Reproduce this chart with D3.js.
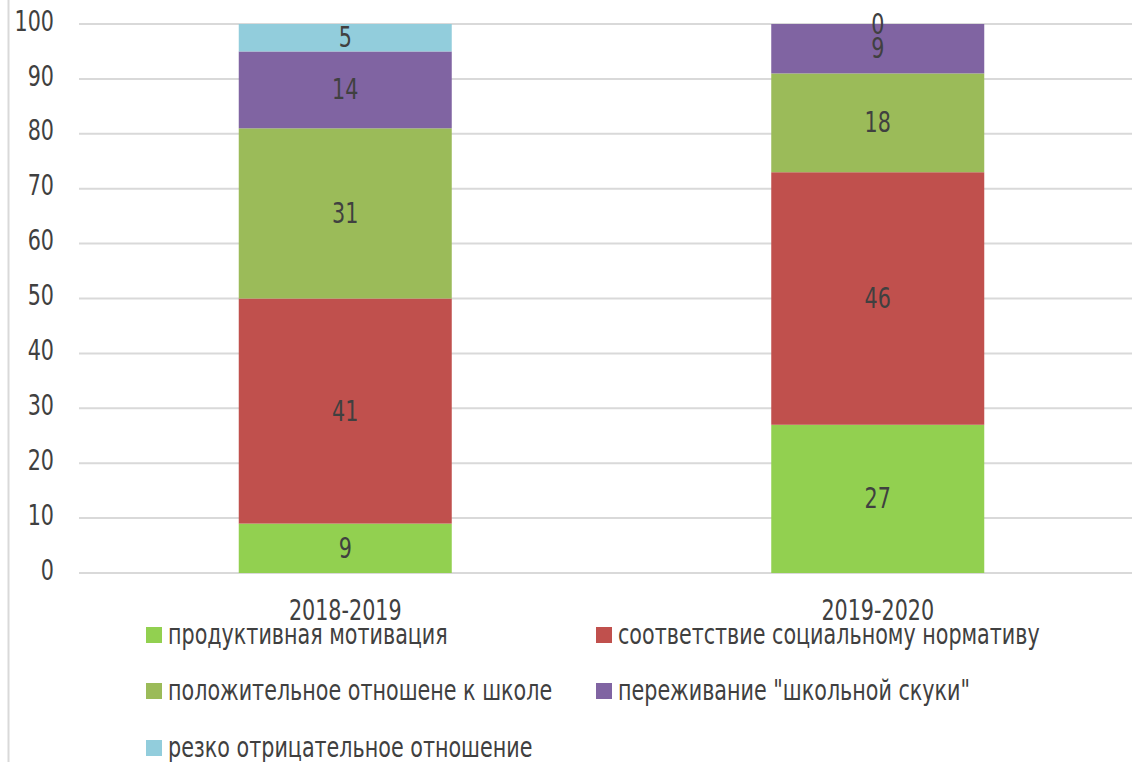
<!DOCTYPE html>
<html>
<head>
<meta charset="utf-8">
<script src="https://cdn.jsdelivr.net/npm/d3@7"></script>
<style>
  body { margin: 0; background: #fff; }
  svg text { font-family: "DejaVu Sans Condensed", "Liberation Sans Narrow", "DejaVu Sans", sans-serif; fill: #404040; }
</style>
</head>
<body>
<div id="chart"></div>
<script>
// data
const years = ['2018-2019', '2019-2020'];
const seriesNames = [
    'продуктивная мотивация',
    'соответствие социальному нормативу',
    'положительное отношене к школе',
    'переживание "школьной скуки"',
    'резко отрицательное отношение'
];
const productive = [9, 27];
const social = [41, 46];
const positive = [31, 18];
const boredom = [14, 9];
const negative = [5, 0];
const yTicks = [0, 10, 20, 30, 40, 50, 60, 70, 80, 90, 100];
const colors = ['#92d050', '#c0504d', '#9bbb59', '#8064a2', '#92cddc'];

const allSeries = [productive, social, positive, boredom, negative];
const rows = years.map((y, i) => {
    const r = { year: y };
    seriesNames.forEach((s, k) => { r[s] = allSeries[k][i]; });
    return r;
});

const W = 1132, H = 762;
const FS = 23;      // font size
const STRETCH = 1.2; // text in the picture is a bit taller than wide

const svg = d3.select('#chart').append('svg')
    .attr('width', W).attr('height', H);

// text drawn in a small group so it can be stretched vertically
function label(parent, x, y, txt, anchor) {
    parent.append('g')
        .attr('transform', `translate(${x}, ${y}) scale(1, ${STRETCH})`)
        .append('text')
        .attr('text-anchor', anchor)
        .attr('dominant-baseline', 'middle')
        .attr('font-size', FS)
        .text(txt);
}

// left frame line
svg.append('line')
    .attr('x1', 8.5).attr('x2', 8.5).attr('y1', 0).attr('y2', H)
    .attr('stroke', '#d9d9d9').attr('stroke-width', 2);

const xScale = d3.scaleBand().domain(years).range([79, 1144])
    .paddingInner(0.6).paddingOuter(0.3);
const yScale = d3.scaleLinear().domain([0, 100]).range([573, 24]);

// gridlines
svg.append('g').selectAll('line').data(yTicks).join('line')
    .attr('x1', 79).attr('x2', W)
    .attr('y1', d => yScale(d)).attr('y2', d => yScale(d))
    .attr('stroke', '#d9d9d9').attr('stroke-width', 2);

// y labels
const yLab = svg.append('g');
yTicks.forEach(t => label(yLab, 54, yScale(t) - 1, t, 'end'));

// stacks
const stack = d3.stack().keys(seriesNames);
const layers = stack(rows);

const layerG = svg.append('g').selectAll('g').data(layers).join('g')
    .attr('fill', (d, i) => colors[i]);
layerG.selectAll('rect').data(d => d).join('rect')
    .attr('x', d => xScale(d.data.year))
    .attr('width', xScale.bandwidth())
    .attr('y', d => yScale(d[1]))
    .attr('height', d => yScale(d[0]) - yScale(d[1]));

// value labels
const labelG = svg.append('g');
layers.forEach(layer => {
    layer.forEach(d => {
        label(labelG,
            xScale(d.data.year) + xScale.bandwidth() / 2,
            (yScale(d[0]) + yScale(d[1])) / 2 + 2,
            d[1] - d[0], 'middle');
    });
});

// category labels
const catG = svg.append('g');
years.forEach(y => label(catG, xScale(y) + xScale.bandwidth() / 2, 612, y, 'middle'));

// legend
const legendPos = [[146, 627], [596, 627], [146, 683], [596, 683], [146, 740]];
const legend = svg.append('g').selectAll('g').data(seriesNames).join('g')
    .attr('transform', (d, i) => `translate(${legendPos[i][0]}, ${legendPos[i][1]})`);
legend.append('rect')
    .attr('width', 16).attr('height', 16)
    .attr('fill', (d, i) => colors[i]);
legend.each(function(d) { label(d3.select(this), 22, 9, d, 'start'); });
</script>
</body>
</html>
